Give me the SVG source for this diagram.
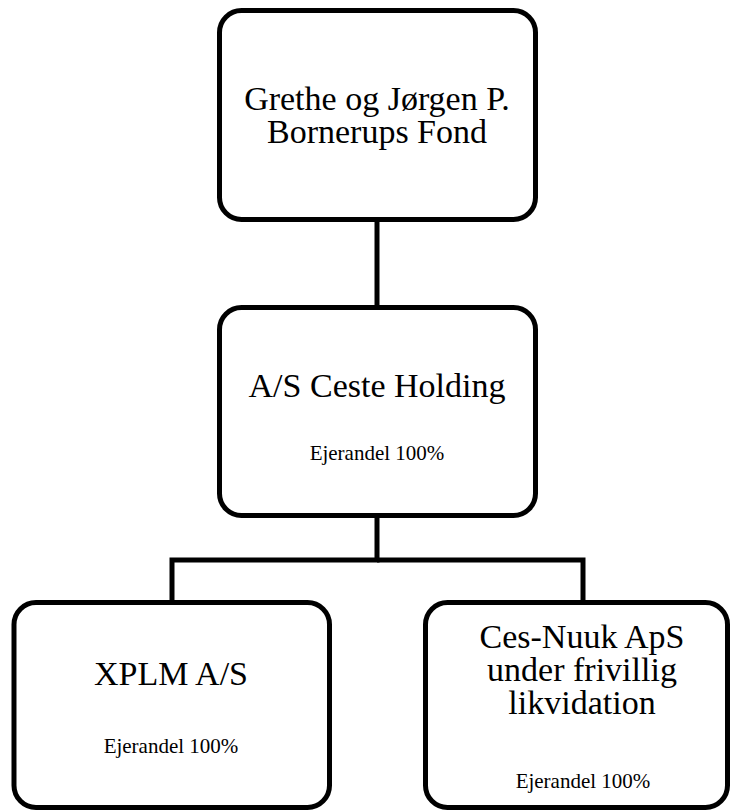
<svg xmlns="http://www.w3.org/2000/svg" width="732" height="812" viewBox="0 0 732 812">
<style>
.box{fill:#fff;stroke:#000;stroke-width:5}
.conn{fill:none;stroke:#000;stroke-width:5}
.big{font-family:"Liberation Serif","Times New Roman",serif;font-size:34px;fill:#000;text-anchor:middle}
.small{font-family:"Liberation Serif","Times New Roman",serif;font-size:21px;fill:#000;text-anchor:middle}
</style>
<rect width="732" height="812" fill="#fff"/>
<g id="connectors">
<line class="conn" x1="377" y1="220" x2="377" y2="308"/>
<polyline class="conn" points="377,516 377,560 172,560 172,602"/>
<polyline class="conn" points="377,560 583,560 583,602"/>
</g>
<g id="fond">
<rect class="box" x="219.5" y="10.5" width="316" height="209" rx="22"/>
<text class="big" x="377" y="110">Grethe og Jørgen P.</text>
<text class="big" x="377" y="143">Bornerups Fond</text>
</g>
<g id="holding">
<rect class="box" x="219.5" y="307.5" width="316" height="208" rx="22"/>
<text class="big" x="377" y="397">A/S Ceste Holding</text>
<text class="small" x="377" y="460">Ejerandel 100%</text>
</g>
<g id="xplm">
<rect class="box" x="14" y="602.5" width="315.5" height="205" rx="22"/>
<text class="big" x="171" y="685">XPLM A/S</text>
<text class="small" x="171" y="753">Ejerandel 100%</text>
</g>
<g id="cesnuuk">
<rect class="box" x="425.5" y="602.5" width="302" height="205" rx="22"/>
<text class="big" x="582" y="648">Ces-Nuuk ApS</text>
<text class="big" x="582" y="681">under frivillig</text>
<text class="big" x="582" y="714">likvidation</text>
<text class="small" x="583" y="788">Ejerandel 100%</text>
</g>
</svg>
